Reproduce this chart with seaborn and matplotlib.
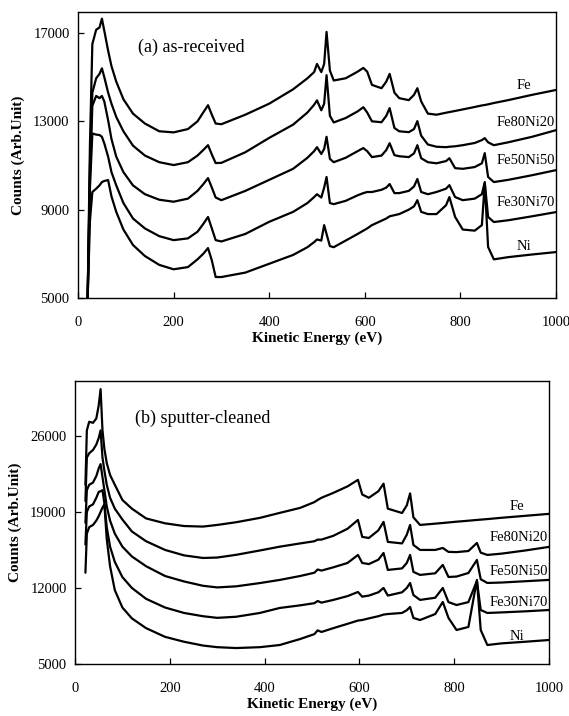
import pandas as pd
import seaborn as sns
import matplotlib.pyplot as plt

sns.set_theme(style='ticks')
plt.rcParams['font.family'] = ['Liberation Serif', 'DejaVu Serif']
plt.rcParams['text.color'] = 'black'
plt.rcParams['axes.labelcolor'] = 'black'

samples = ['Fe', 'Fe80Ni20', 'Fe50Ni50', 'Fe30Ni70', 'Ni']

# (a) as-received
energy_a = [20, 25, 30, 38, 45, 50, 55, 63, 70, 80, 95, 115, 140, 170, 200, 230, 250, 262, 272, 280,
            288, 300, 350, 400, 450, 480, 494, 500, 509, 515, 520, 527, 535, 560, 585, 597, 605, 615, 635, 645,
            652, 662, 672, 692, 703, 710, 718, 732, 750, 770, 777, 789, 805, 830, 845, 851, 858, 870, 900, 950, 1000]
fe_a = [4800, 12000, 16500, 17150, 17250, 17650, 17100, 16200, 15500, 14800, 14000, 13350, 12900, 12550, 12500, 12650, 13000, 13400, 13730, 13300,
        12900, 12870, 13300, 13800, 14450, 14950, 15230, 15600, 15230, 15600, 17050, 15300, 14850, 14950, 15250, 15420, 15250, 14650, 14500, 14800,
        15150, 14300, 14050, 13960, 14200, 14500, 13900, 13350, 13300, 13390, 13420, 13470, 13540, 13650, 13720, 13740, 13770, 13830, 13960, 14200, 14420]
fe80_a = [4800, 11000, 14300, 14950, 15150, 15400, 15000, 14300, 13800, 13200, 12550, 11900, 11450, 11150, 11020, 11150, 11450, 11700, 11920, 11500,
          11110, 11120, 11600, 12250, 12850, 13400, 13750, 13950, 13500, 13800, 15090, 13250, 12950, 13150, 13450, 13640, 13400, 13000, 12960, 13250,
          13600, 12700, 12550, 12510, 12650, 13010, 12350, 11950, 11850, 11830, 11850, 11870, 11920, 12020, 12150, 12240, 12050, 11920, 12050, 12300, 12600]
fe50_a = [4800, 10500, 13700, 14150, 14050, 14150, 13900, 13050, 12200, 11400, 10700, 10100, 9700, 9450, 9360, 9500, 9850, 10150, 10430, 10000,
          9550, 9430, 9850, 10350, 10850, 11350, 11650, 11830, 11520, 11750, 12300, 11300, 11150, 11350, 11650, 11790, 11650, 11380, 11450, 11700,
          12010, 11470, 11420, 11380, 11550, 11920, 11330, 11150, 11100, 11200, 11330, 10880, 10850, 10930, 11100, 11560, 10480, 10250, 10350, 10560, 10790]
fe30_a = [4800, 10000, 12450, 12400, 12380, 12300, 12000, 11400, 10700, 10100, 9300, 8600, 8150, 7800, 7620, 7700, 8000, 8350, 8670, 8150,
          7620, 7560, 7900, 8450, 8900, 9300, 9570, 9700, 9550, 10000, 10480, 9300, 9250, 9400, 9650, 9750, 9800, 9800, 9900, 10000,
          10160, 9750, 9750, 9850, 10050, 10390, 9800, 9700, 9800, 9950, 10110, 9570, 9430, 9500, 9700, 10250, 8670, 8440, 8520, 8700, 8890]
ni_a = [4800, 8500, 9800, 9950, 10100, 10250, 10300, 10340, 9600, 8900, 8100, 7400, 6900, 6500, 6300, 6400, 6750, 7000, 7260, 6700,
        5950, 5950, 6150, 6550, 6950, 7300, 7530, 7650, 7600, 8300, 7900, 7350, 7300, 7600, 7900, 8050, 8150, 8300, 8500, 8600,
        8700, 8750, 8800, 9000, 9150, 9430, 8900, 8800, 8800, 9200, 9570, 8670, 8100, 8050, 8300, 10200, 7310, 6750, 6850, 6970, 7080]

# (b) sputter-cleaned
energy_b = [22, 25, 30, 38, 45, 50, 54, 58, 62, 67, 74, 84, 100, 120, 150, 190, 230, 270, 300, 340,
            390, 432, 475, 505, 512, 520, 545, 575, 597, 606, 620, 640, 651, 660, 690, 700, 707, 714, 728, 760,
            776, 788, 805, 830, 848, 856, 870, 900, 950, 1000]
fe_b = [21500, 26500, 27300, 27200, 27600, 28800, 30300, 26500, 24800, 23500, 22400, 21500, 20100, 19300, 18400, 17950, 17700, 17650, 17800, 18050,
        18450, 18910, 19370, 19900, 20100, 20300, 20750, 21350, 21950, 20600, 20300, 20900, 21600, 19300, 18900, 19600, 20700, 18500, 17800, 17920,
        17980, 18030, 18100, 18190, 18260, 18290, 18340, 18460, 18640, 18820]
fe80_b = [20000, 24000, 24400, 24700, 25200, 25800, 26500, 24000, 22800, 21500, 20300, 19300, 18300, 17200, 16300, 15500, 15000, 14760, 14800, 15050,
          15450, 15800, 16100, 16300, 16450, 16450, 16800, 17450, 18260, 16700, 16600, 17300, 18080, 16240, 16100, 16900, 17800, 15960, 15500, 15500,
          15680, 15320, 15300, 15400, 16140, 15250, 15040, 15160, 15450, 15780]
fe50_b = [18000, 21000, 21500, 21700, 22300, 23000, 23400, 22200, 21000, 19500, 18200, 17000, 15800, 14900, 14000, 13100, 12600, 12200, 12050, 12150,
          12450, 12740, 13100, 13400, 13700, 13600, 13900, 14300, 15040, 14300, 14200, 14600, 15220, 13660, 13800, 14300, 15040, 13480, 13200, 13350,
          14120, 13010, 13050, 13380, 14580, 12800, 12460, 12500, 12620, 12740]
fe30_b = [16000, 19000, 19500, 19700, 20300, 20840, 20900, 21000, 19800, 17600, 15800, 14400, 13000, 12000, 11000, 10200, 9700, 9400, 9250, 9350,
          9700, 10160, 10400, 10600, 10800, 10650, 10900, 11250, 11630, 11200, 11300, 11600, 12000, 11300, 11600, 12000, 12460, 11350, 10900, 11100,
          12000, 10700, 10430, 10700, 12650, 9970, 9700, 9750, 9850, 9970]
ni_b = [13400, 17000, 17600, 17800, 18200, 18600, 19000, 19400, 19700, 16500, 14000, 11800, 10200, 9200, 8300, 7500, 7050, 6700, 6550, 6470,
        6550, 6750, 7300, 7750, 8100, 7950, 8300, 8700, 9000, 9050, 9200, 9400, 9550, 9600, 9700, 9950, 10250, 9240, 9050, 9600,
        10710, 9240, 8130, 8410, 12740, 8130, 6750, 6900, 7050, 7210]

label_y_a = [14640, 12960, 11240, 9340, 7310]
label_y_b = [19460, 16600, 13470, 10620, 7490]


def longform(energy, series):
    rows = []
    for name, vals in zip(samples, series):
        rows.append(pd.DataFrame({'energy': energy, 'counts': vals, 'sample': name}))
    return pd.concat(rows, ignore_index=True)


df_a = longform(energy_a, [fe_a, fe80_a, fe50_a, fe30_a, ni_a])
df_b = longform(energy_b, [fe_b, fe80_b, fe50_b, fe30_b, ni_b])

fig = plt.figure(figsize=(5.69, 7.16), dpi=100)
ax_a = fig.add_axes([0.1371, 0.5838, 0.840, 0.3994])
ax_b = fig.add_axes([0.1318, 0.0726, 0.833, 0.3953])

black = {s: 'black' for s in samples}

panels = [
    (ax_a, df_a, (5000, 17950), [5000, 9000, 13000, 17000], label_y_a, '(a) as-received', 0.878),
    (ax_b, df_b, (5000, 31050), [5000, 12000, 19000, 26000], label_y_b, '(b) sputter-cleaned', 0.869),
]

for ax, df, ylim, yticks, label_y, title, title_y in panels:
    sns.lineplot(data=df, x='energy', y='counts', hue='sample', palette=black,
                 estimator=None, sort=False, legend=False, linewidth=1.6, ax=ax)
    ax.set_xlim(0, 1000)
    ax.set_ylim(*ylim)
    ax.set_xticks([0, 200, 400, 600, 800, 1000])
    ax.set_yticks(yticks)
    ax.tick_params(direction='in', length=4, width=0.9, labelsize=10.5, colors='black')
    ax.tick_params(axis='x', pad=13)
    ax.tick_params(axis='y', pad=6)
    for sp in ax.spines.values():
        sp.set_visible(True)
        sp.set_linewidth(1.0)
        sp.set_color('black')
    ax.set_xlabel('Kinetic Energy (eV)', fontsize=11, fontweight='bold', labelpad=2)
    ax.set_ylabel('Counts (Arb.Unit)', fontsize=11, fontweight='bold', labelpad=6)
    ax.text(0.126, title_y, title, transform=ax.transAxes, fontsize=13, va='center', ha='left')
    for name, yv in zip(samples, label_y):
        if name in ('Fe', 'Ni'):
            ax.text(932, yv, name, fontsize=10.5, ha='center', va='center')
        else:
            ax.text(998, yv, name, fontsize=10.5, ha='right', va='center')

fig.savefig('out.png', dpi=100)
